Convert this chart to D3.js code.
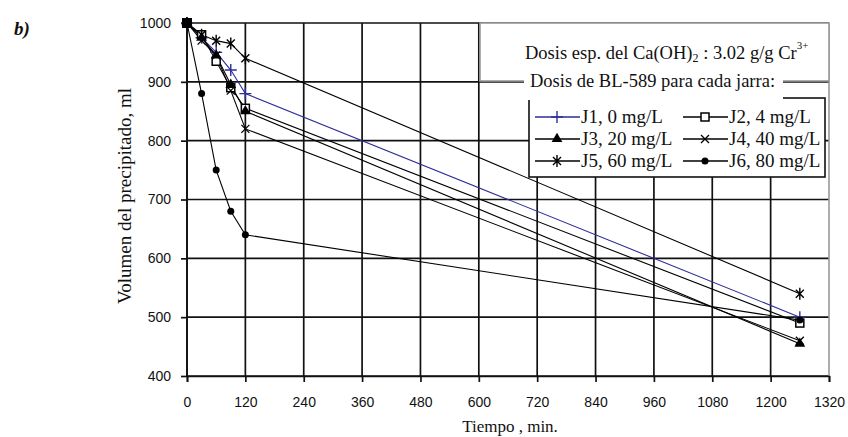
<!DOCTYPE html>
<html>
<head>
<meta charset="utf-8">
<script src="https://cdn.jsdelivr.net/npm/d3@7"></script>
<style>
  body { margin: 0; background: #fff; }
  svg { display: block; }
</style>
</head>
<body>
<svg width="848" height="437"></svg>
<script>
// tiempos de lectura (min)
var tiempos = [0, 30, 60, 90, 120, 1260];

// volumen del precipitado (ml) por jarra
var j1 = [1000, 975, 950, 920, 880, 500];
var j2 = [1000, 980, 935, 890, 855, 490];
var j3 = [1000, 975, 945, 895, 850, 455];
var j4 = [1000, 970, 945, 885, 820, 460];
var j5 = [1000, 980, 970, 965, 940, 540];
var j6 = [1000, 880, 750, 680, 640, 495];

var nombres = ["J1, 0 mg/L", "J2, 4 mg/L", "J3, 20 mg/L", "J4, 40 mg/L", "J5, 60 mg/L", "J6, 80 mg/L"];
var xTicks = [0, 120, 240, 360, 480, 600, 720, 840, 960, 1080, 1200, 1320];
var yTicks = [400, 500, 600, 700, 800, 900, 1000];

var series = [
  {name: nombres[0], values: j1, color: "#2e2e9a", mark: "plus"},
  {name: nombres[1], values: j2, color: "#000", mark: "square"},
  {name: nombres[2], values: j3, color: "#000", mark: "triangle"},
  {name: nombres[3], values: j4, color: "#000", mark: "cross"},
  {name: nombres[4], values: j5, color: "#000", mark: "star"},
  {name: nombres[5], values: j6, color: "#000", mark: "circle"}
];

var svg = d3.select("svg");
var x = d3.scaleLinear().domain([0, 1320]).range([187, 829]);
var y = d3.scaleLinear().domain([400, 1000]).range([376, 23]);

// rejilla
var grid = svg.append("g");
grid.selectAll(".gx").data(xTicks.slice(0, -1)).enter().append("line")
  .attr("x1", function(d) { return x(d); }).attr("x2", function(d) { return x(d); })
  .attr("y1", y(400)).attr("y2", y(1000))
  .attr("stroke", "#111").attr("stroke-width", 1.7);
grid.selectAll(".gy").data(yTicks).enter().append("line")
  .attr("x1", x(0)).attr("x2", x(1320))
  .attr("y1", function(d) { return y(d); }).attr("y2", function(d) { return y(d); })
  .attr("stroke", "#111").attr("stroke-width", 1.7);
// borde derecho gris
svg.append("line").attr("x1", x(1320)).attr("x2", x(1320)).attr("y1", y(1000)).attr("y2", y(400))
  .attr("stroke", "#999").attr("stroke-width", 1.6);

// ejes
var xAxis = svg.append("g").attr("transform", "translate(0," + y(400) + ")")
  .call(d3.axisBottom(x).tickValues(xTicks).tickSize(6).tickPadding(15).tickFormat(d3.format("d")));
var yAxis = svg.append("g").attr("transform", "translate(" + x(0) + ",0)")
  .call(d3.axisLeft(y).tickValues(yTicks).tickSize(6).tickPadding(10).tickFormat(d3.format("d")));
[xAxis, yAxis].forEach(function(a) {
  a.select(".domain").attr("stroke", "#111").attr("stroke-width", 1.7);
  a.selectAll(".tick line").attr("stroke", "#111").attr("stroke-width", 1.7);
  a.selectAll("text").attr("font-family", "Liberation Sans, Arial, sans-serif")
    .attr("font-size", 14).attr("fill", "#111");
});
yAxis.select(".domain").attr("d", "M0," + y(400) + "V" + y(1000));

// simbolos
function marker(g, type, color) {
  if (type === "plus") {
    g.append("path").attr("d", "M-6,0H6M0,-6V6").attr("stroke", color).attr("stroke-width", 1.4);
  } else if (type === "square") {
    g.append("rect").attr("x", -4).attr("y", -4).attr("width", 8).attr("height", 8)
      .attr("fill", "#fff").attr("stroke", color).attr("stroke-width", 1.5);
  } else if (type === "triangle") {
    g.append("path").attr("d", d3.symbol(d3.symbolTriangle, 50)()).attr("fill", color);
  } else if (type === "cross") {
    g.append("path").attr("d", "M-4,-4L4,4M-4,4L4,-4").attr("stroke", color).attr("stroke-width", 1.3);
  } else if (type === "star") {
    g.append("path").attr("d", "M-4,-4L4,4M-4,4L4,-4M0,-6V6").attr("stroke", color).attr("stroke-width", 1.4);
  } else if (type === "circle") {
    g.append("circle").attr("r", 3.5).attr("fill", color);
  }
}

var line = d3.line().x(function(d) { return x(d[0]); }).y(function(d) { return y(d[1]); });
var plot = svg.append("g");
series.forEach(function(s) {
  var pts = tiempos.map(function(t, i) { return [t, s.values[i]]; });
  plot.append("path").datum(pts).attr("d", line).attr("fill", "none")
    .attr("stroke", s.color).attr("stroke-width", 1.1);
});
series.forEach(function(s) {
  tiempos.forEach(function(t, i) {
    var g = plot.append("g").attr("transform", "translate(" + x(t) + "," + y(s.values[i]) + ")");
    marker(g, s.mark, s.color);
  });
});
// origen comun: marcadores superpuestos
plot.append("rect").attr("x", x(0) - 5).attr("y", y(1000) - 5).attr("width", 10).attr("height", 10).attr("fill", "#000");

// cuadro de texto superior
var serif = "Liberation Serif, Times New Roman, serif";
svg.append("rect").attr("x", 480).attr("y", 23).attr("width", 349).attr("height", 58)
  .attr("fill", "#fff").attr("stroke", "#999").attr("stroke-width", 1.6);
var t1 = svg.append("text").attr("x", 525).attr("y", 59).attr("font-family", serif).attr("font-size", 18.5).attr("fill", "#111");
t1.append("tspan").text("Dosis esp. del Ca(OH)");
t1.append("tspan").attr("font-size", 12).attr("dy", 3).text("2");
t1.append("tspan").attr("dy", -3).text(" : 3.02 g/g Cr");
t1.append("tspan").attr("font-size", 11).attr("dy", -10).text("3+");

// leyenda
svg.append("rect").attr("x", 529).attr("y", 98).attr("width", 296).attr("height", 79)
  .attr("fill", "#fff").attr("stroke", "#111").attr("stroke-width", 1.6);
svg.append("rect").attr("x", 524).attr("y", 72).attr("width", 259).attr("height", 28).attr("fill", "#fff");
svg.append("text").attr("x", 530).attr("y", 87).attr("font-family", serif).attr("font-size", 18.5)
  .attr("fill", "#111").text("Dosis de BL-589 para cada jarra:");

var cols = [535, 683], rows = [117, 139, 161];
series.forEach(function(s, i) {
  var cx = cols[i % 2], cy = rows[Math.floor(i / 2)];
  svg.append("line").attr("x1", cx).attr("x2", cx + 45).attr("y1", cy).attr("y2", cy)
    .attr("stroke", s.color).attr("stroke-width", 1.5);
  marker(svg.append("g").attr("transform", "translate(" + (cx + 22) + "," + cy + ")"), s.mark, s.color);
  svg.append("text").attr("x", cx + 46).attr("y", cy + 6).attr("font-family", serif).attr("font-size", 19)
    .attr("fill", "#111").text(s.name);
});

// titulos
svg.append("text").attr("x", 510).attr("y", 432).attr("text-anchor", "middle")
  .attr("font-family", serif).attr("font-size", 17).attr("fill", "#111").text("Tiempo , min.");
svg.append("text").attr("transform", "translate(131,196) rotate(-90)").attr("text-anchor", "middle")
  .attr("font-family", serif).attr("font-size", 19).attr("fill", "#111").text("Volumen del precipitado, ml");
svg.append("text").attr("x", 14).attr("y", 35).attr("font-family", serif).attr("font-size", 19)
  .attr("font-style", "italic").attr("font-weight", "bold").attr("fill", "#111").text("b)");
</script>
</body>
</html>
